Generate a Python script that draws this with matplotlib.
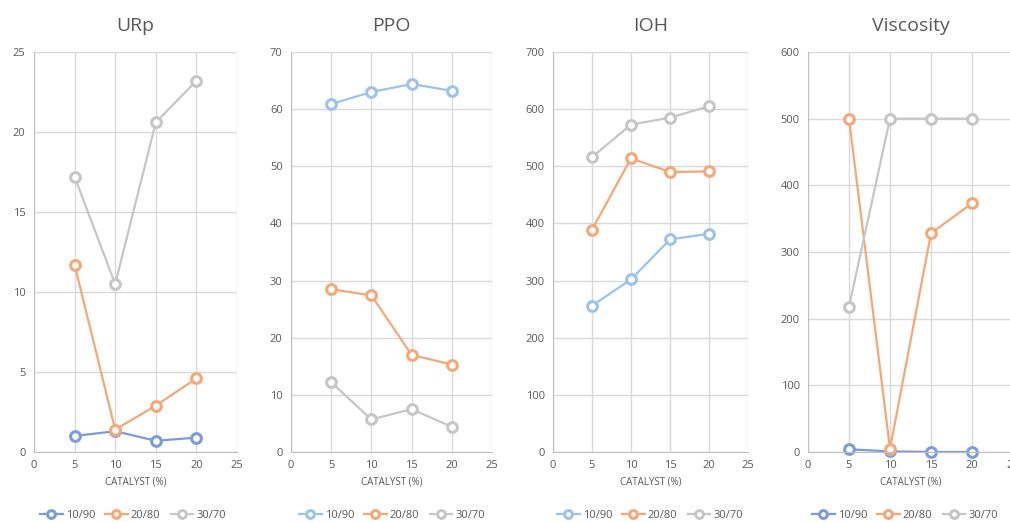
import matplotlib
matplotlib.use('Agg')
from matplotlib import pyplot as plt

plt.rcParams['font.family'] = ['Open Sans', 'DejaVu Sans']

catalyst = [5, 10, 15, 20]
series_names = ['10/90', '20/80', '30/70']

urp_10 = [1.0, 1.3, 0.7, 0.9]
urp_20 = [11.7, 1.4, 2.9, 4.6]
urp_30 = [17.2, 10.5, 20.6, 23.2]

ppo_10 = [60.9, 63.0, 64.4, 63.2]
ppo_20 = [28.5, 27.4, 17.0, 15.3]
ppo_30 = [12.2, 5.7, 7.5, 4.4]

ioh_10 = [256, 302, 372, 382]
ioh_20 = [389, 514, 490, 491]
ioh_30 = [516, 573, 585, 605]

visc_10 = [4, 1, 0, 0]
visc_20 = [500, 5, 328, 373]
visc_30 = [218, 500, 500, 500]

panels = [
    ('URp', [urp_10, urp_20, urp_30], 25, 5, '#7C9BDA'),
    ('PPO', [ppo_10, ppo_20, ppo_30], 70, 10, '#9DC3E6'),
    ('IOH', [ioh_10, ioh_20, ioh_30], 700, 100, '#9DC3E6'),
    ('Viscosity', [visc_10, visc_20, visc_30], 600, 100, '#7C9BDA'),
]
orange = '#F4A878'
gray = '#C6C6C6'

# axes boxes in pixels: left, right, legend centre
boxes = [(34, 237, 133), (291, 492, 392), (553, 748, 650), (808, 1013, 905)]
W, H = 1010, 522
bottom_px, top_px = 452, 52

fig = plt.figure(figsize=(W / 100, H / 100), dpi=100)

for (title, data, ymax, ystep, blue), (l, r, lc) in zip(panels, boxes):
    ax = fig.add_axes([l / W, 1 - bottom_px / H, (r - l) / W, (bottom_px - top_px) / H])
    colors = [blue, orange, gray]
    for vals, name, c in zip(data, series_names, colors):
        ax.plot(catalyst, vals, color=c, lw=1.6, marker='o', ms=7,
                mfc='white', mec=c, mew=2.2, label=name, clip_on=False)
    ax.set_xlim(0, 25)
    ax.set_ylim(0, ymax)
    ax.set_xticks(range(0, 26, 5))
    ax.set_yticks(range(0, ymax + 1, ystep))
    ax.grid(True, color='#D9D9D9', lw=1)
    ax.set_axisbelow(True)
    for s in ['top', 'right']:
        ax.spines[s].set_visible(False)
    for s in ['left', 'bottom']:
        ax.spines[s].set_color('#BFBFBF')
    ax.tick_params(length=0, labelsize=8, labelcolor='#595959', pad=6)
    ax.set_title(title, fontsize=14, color='#595959', pad=15)
    ax.set_xlabel('CATALYST (%)', fontsize=7, color='#595959', labelpad=4)
    fig.legend(handles=ax.get_lines(), labels=series_names, loc='center',
               bbox_to_anchor=(lc / W, 1 - 515 / H), ncol=3, frameon=False,
               fontsize=8, labelcolor='#595959', handlelength=2.0,
               columnspacing=0.9, handletextpad=0.3, markerscale=0.8)

fig.savefig('out.png', dpi=100)
